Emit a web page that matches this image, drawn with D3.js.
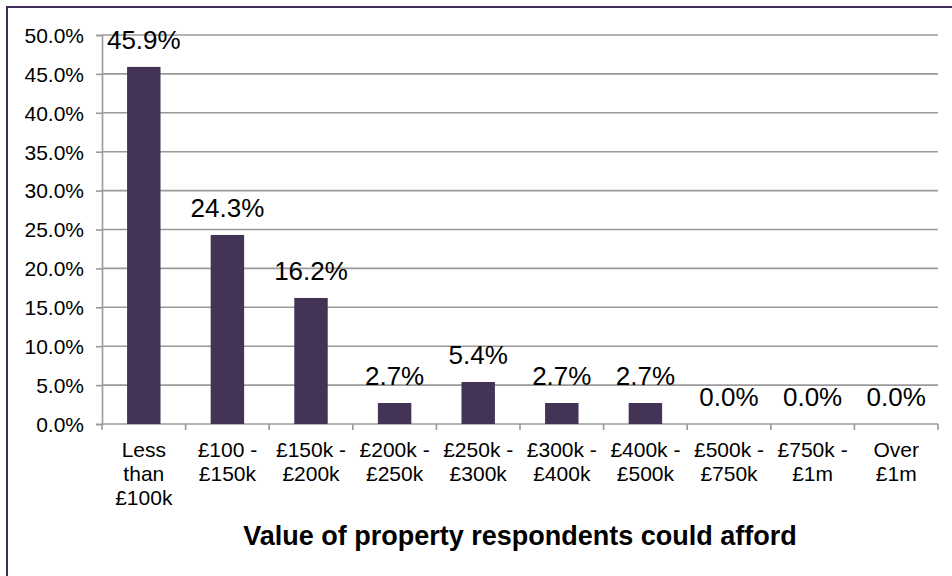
<!DOCTYPE html>
<html><head><meta charset="utf-8">
<script src="https://cdn.jsdelivr.net/npm/d3@7"></script>
<style>body{margin:0;background:#fff}svg{display:block}text{font-family:"Liberation Sans",Arial,sans-serif;fill:#000}</style>
</head><body>
<script>
const categories = ["Less than £100k","£100 - £150k","£150k - £200k","£200k - £250k","£250k - £300k","£300k - £400k","£400k - £500k","£500k - £750k","£750k - £1m","Over £1m"];
const categoryLines = [["Less","than","£100k"],["£100 -","£150k"],["£150k -","£200k"],["£200k -","£250k"],["£250k -","£300k"],["£300k -","£400k"],["£400k -","£500k"],["£500k -","£750k"],["£750k -","£1m"],["Over","£1m"]];
const values = [45.9,24.3,16.2,2.7,5.4,2.7,2.7,0.0,0.0,0.0];
const yTicks = [0,5,10,15,20,25,30,35,40,45,50];
const xTitle = "Value of property respondents could afford";

const W=952,H=576;
const svg=d3.select("body").append("svg").attr("width",W).attr("height",H);
svg.append("rect").attr("x",7).attr("y",7).attr("width",1000).attr("height",1000)
  .attr("fill","#fff").attr("stroke","#3f2d58").attr("stroke-width",2);

const x0=102,x1=938,yb=424,yt=35;
const x=d3.scaleBand().domain(categories).range([x0,x1]).paddingInner(0.6).paddingOuter(0.3);
const y=d3.scaleLinear().domain([0,50]).range([yb,yt]);
const step=x.step();

// gridlines
svg.append("g").selectAll("line").data(yTicks.filter(d=>d>0)).join("line")
  .attr("x1",x0).attr("x2",x1).attr("y1",d=>y(d)).attr("y2",d=>y(d))
  .attr("stroke","#9a9a9a").attr("stroke-width",1.6);

// y axis
const yAxis=d3.axisLeft(y).tickValues(yTicks).tickSize(6).tickPadding(12).tickFormat(d=>d.toFixed(1)+"%");
const gy=svg.append("g").attr("transform",`translate(${x0},0)`).call(yAxis);
gy.select(".domain").attr("stroke","#9a9a9a").attr("stroke-width",1.6);
gy.selectAll(".tick line").attr("stroke","#9a9a9a").attr("stroke-width",1.6);
gy.selectAll(".tick text").attr("font-size",21).attr("dy","0.35em").style("font-family",'"Liberation Sans",Arial,sans-serif');

// x axis
svg.append("line").attr("x1",x0).attr("x2",x1).attr("y1",yb).attr("y2",yb).attr("stroke","#9a9a9a").attr("stroke-width",1.6);
const bounds=categories.map(c=>x(c)-step*0.3).concat([x1]);
svg.append("g").selectAll("line").data(bounds).join("line")
  .attr("x1",d=>d).attr("x2",d=>d).attr("y1",yb).attr("y2",yb+6)
  .attr("stroke","#9a9a9a").attr("stroke-width",1.6);

// bars
svg.append("g").selectAll("rect").data(values).join("rect")
  .attr("x",(d,i)=>x(categories[i])).attr("width",x.bandwidth())
  .attr("y",d=>y(d)).attr("height",d=>yb-y(d)).attr("fill","#433456");

// data labels
svg.append("g").selectAll("text").data(values).join("text")
  .attr("x",(d,i)=>x(categories[i])+x.bandwidth()/2).attr("y",d=>y(d)-18)
  .attr("text-anchor","middle").attr("font-size",26).text(d=>d.toFixed(1)+"%");

// category labels
const cl=svg.append("g").selectAll("text").data(categoryLines).join("text")
  .attr("text-anchor","middle").attr("font-size",21)
  .attr("transform",(d,i)=>`translate(${x(categories[i])+x.bandwidth()/2},457)`);
cl.selectAll("tspan").data(d=>d).join("tspan").attr("x",0).attr("y",(d,i)=>i*24).text(d=>d);

// title
svg.append("text").attr("x",(x0+x1)/2).attr("y",545).attr("text-anchor","middle")
  .attr("font-size",27).attr("font-weight","bold").text(xTitle);
</script>
</body></html>
